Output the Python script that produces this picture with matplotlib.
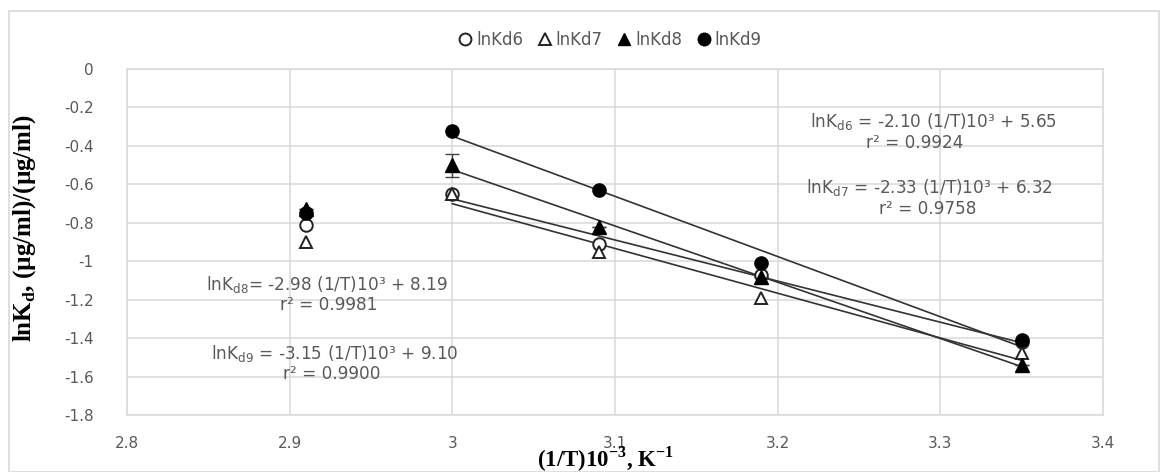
import numpy as np
import matplotlib
matplotlib.use("Agg")
import matplotlib.pyplot as plt
from matplotlib.patches import Rectangle

plt.rcParams['font.family'] = ['DejaVu Sans']
plt.rcParams['mathtext.fontset'] = 'custom'
plt.rcParams['mathtext.rm'] = 'DejaVu Sans'
plt.rcParams['mathtext.it'] = 'DejaVu Sans:italic'
plt.rcParams['mathtext.bf'] = 'Liberation Serif:bold'

# ---- data ----
x_vals = [2.91, 3.00, 3.09, 3.19, 3.35]
lnKd6 = [-0.81, -0.65, -0.91, -1.07, -1.42]
lnKd7 = [-0.90, -0.65, -0.95, -1.19, -1.48]
lnKd8 = [-0.73, -0.50, -0.82, -1.08, -1.54]
lnKd9 = [-0.75, -0.32, -0.63, -1.01, -1.41]
lnKd8_err = [0.0, 0.06, 0.0, 0.0, 0.0]

series_names = ['lnKd6', 'lnKd7', 'lnKd8', 'lnKd9']
eq_lines = [
    "lnK$_{\\mathrm{d6}}$ = -2.10 (1/T)10³ + 5.65",
    "lnK$_{\\mathrm{d7}}$ = -2.33 (1/T)10³ + 6.32",
    "lnK$_{\\mathrm{d8}}$= -2.98 (1/T)10³ + 8.19",
    "lnK$_{\\mathrm{d9}}$ = -3.15 (1/T)10³ + 9.10",
]
r2_lines = ["r² = 0.9924", "r² = 0.9758", "r² = 0.9981", "r² = 0.9900"]
eq_pos = [(3.296, -0.271), (3.293, -0.619), (2.923, -1.119), (2.928, -1.478)]
r2_pos = [(3.284, -0.385), (3.292, -0.728), (2.924, -1.228), (2.926, -1.587)]

x_ticks = [2.8, 2.9, 3.0, 3.1, 3.2, 3.3, 3.4]
x_tick_labels = ['2.8', '2.9', '3', '3.1', '3.2', '3.3', '3.4']
y_ticks = [0, -0.2, -0.4, -0.6, -0.8, -1.0, -1.2, -1.4, -1.6, -1.8]
y_tick_labels = ['0', '-0.2', '-0.4', '-0.6', '-0.8', '-1', '-1.2', '-1.4', '-1.6', '-1.8']

W, H = 1168, 472
fig = plt.figure(figsize=(W / 100, H / 100), dpi=100)
ax = fig.add_axes([127 / W, 1 - 415 / H, (1103 - 127) / W, (415 - 69) / H])

# outer frame
fig.patches.append(Rectangle((9 / W, 0.5 / H), (1159 - 9) / W, (H - 11 - 0.5) / H,
                             transform=fig.transFigure, fill=False,
                             edgecolor='#d9d9d9', linewidth=1.2))

grey = '#595959'
ax.set_xlim(2.8, 3.4)
ax.set_ylim(-1.8, 0)
ax.set_xticks(x_ticks)
ax.set_xticklabels(x_tick_labels)
ax.set_yticks(y_ticks)
ax.set_yticklabels(y_tick_labels)
ax.tick_params(axis='both', length=0, labelsize=11, colors=grey)
ax.tick_params(axis='y', pad=24)
ax.tick_params(axis='x', pad=15)
ax.grid(True, color='#d9d9d9', linewidth=1.1)
ax.set_axisbelow(True)
for s in ax.spines.values():
    s.set_color('#d9d9d9')
    s.set_linewidth(1.1)

xs = np.array(x_vals)
data = [np.array(lnKd6), np.array(lnKd7), np.array(lnKd8), np.array(lnKd9)]
styles = [
    dict(marker='o', mfc='white', mec='#222222', mew=1.4, ms=9),
    dict(marker='^', mfc='white', mec='#222222', mew=1.4, ms=9),
    dict(marker='^', mfc='black', mec='black', mew=1.0, ms=9.5),
    dict(marker='o', mfc='black', mec='black', mew=1.0, ms=9.5),
]

# trend lines (fit on x >= 3.0)
mask = xs >= 3.0
for y in data:
    k, b = np.polyfit(xs[mask], y[mask], 1)
    xl = np.array([xs[mask].min(), xs[mask].max()])
    ax.plot(xl, k * xl + b, color='#333333', linewidth=1.2, zorder=2)

ax.errorbar(xs, data[2], yerr=lnKd8_err, fmt='none', ecolor='#444444',
            elinewidth=1.0, capsize=5, capthick=1.0, zorder=3)

handles = []
for name, y, st in zip(series_names, data, styles):
    h, = ax.plot(xs, y, linestyle='none', label=name, zorder=4, **st)
    handles.append(h)

for txt, (tx, ty) in zip(eq_lines, eq_pos):
    ax.text(tx, ty, txt, ha='center', va='center', fontsize=12.2, color=grey)
for txt, (tx, ty) in zip(r2_lines, r2_pos):
    ax.text(tx, ty, txt, ha='center', va='center', fontsize=12.2, color=grey)

leg = fig.legend(handles=handles, loc='center', bbox_to_anchor=(610 / W, 1 - 40 / H),
                 ncol=4, frameon=False, fontsize=12, handlelength=0.8,
                 handletextpad=0.25, columnspacing=0.9, markerscale=0.95)
for t in leg.get_texts():
    t.set_color(grey)

ax.set_ylabel("lnK$_{\\mathbf{d}}$, (µg/ml)/(µg/ml)", fontfamily='Liberation Serif',
              fontweight='bold', fontsize=18)
ax.yaxis.set_label_coords(-(127 - 38) / (1103 - 127), (415 - 228) / (415 - 69))
ax.set_xlabel("(1/T)10$^{\\mathbf{-3}}$, K$^{\\mathbf{-1}}$", fontfamily='Liberation Serif',
              fontweight='bold', fontsize=16.5, va='baseline')
ax.xaxis.set_label_coords((605 - 127) / (1103 - 127), -(467 - 415) / (415 - 69))

fig.savefig('out.png', dpi=100)
